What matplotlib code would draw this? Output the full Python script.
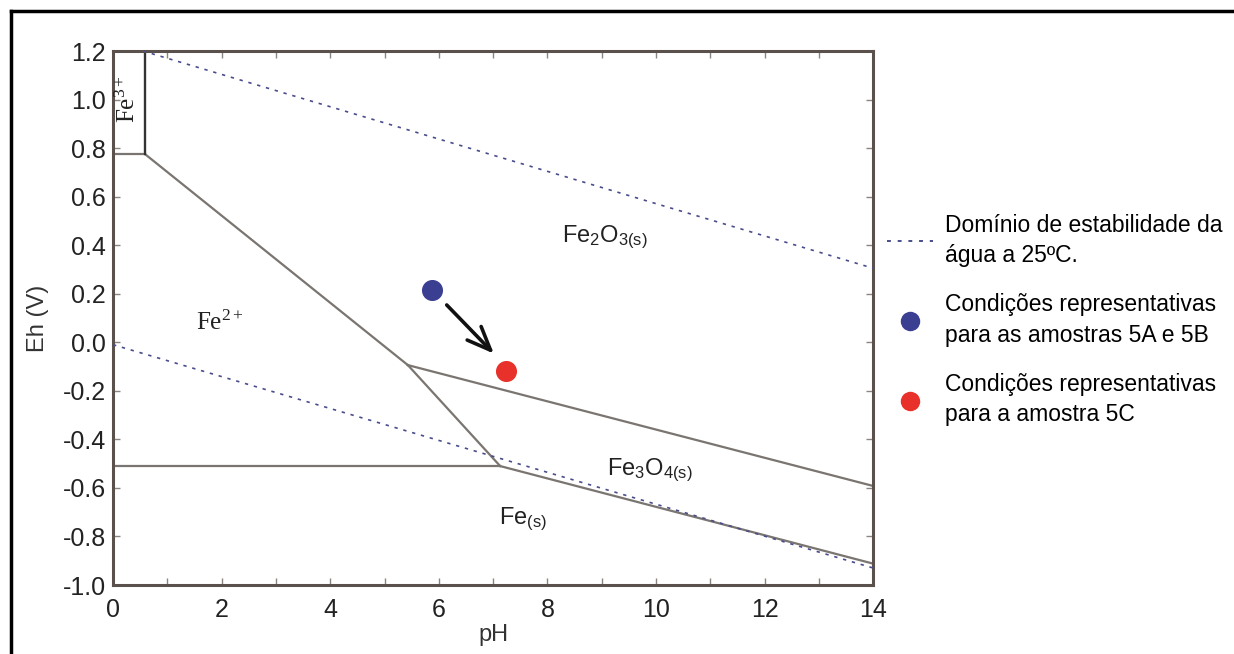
#!/usr/bin/env python3

import numpy as np
import matplotlib.pyplot as plt
from matplotlib.lines import Line2D

# boundaries of the stability fields (pH, Eh)
fe3_fe2o3_ph = [0.59, 0.59]
fe3_fe2o3_eh = [1.2, 0.775]
fe3_fe2_ph = [0.0, 0.59]
fe3_fe2_eh = [0.775, 0.775]
fe2_fe2o3_ph = [0.59, 5.43]
fe2_fe2o3_eh = [0.775, -0.094]
fe2_fe3o4_ph = [5.43, 7.13]
fe2_fe3o4_eh = [-0.094, -0.51]
fe2_fe_ph = [0.0, 7.13]
fe2_fe_eh = [-0.51, -0.51]
fe2o3_fe3o4_ph = [5.43, 14.0]
fe2o3_fe3o4_eh = [-0.094, -0.592]
fe3o4_fe_ph = [7.13, 14.0]
fe3o4_fe_eh = [-0.51, -0.912]

# water stability limits
water_up_ph = [0.55, 14.0]
water_up_eh = [1.2, 0.305]
water_low_ph = [0.0, 14.0]
water_low_eh = [-0.01, -0.93]

# samples
sample_ab = (5.87, 0.215)
sample_c = (7.24, -0.118)
arrow_tail = (6.11, 0.162)
arrow_tip = (7.05, -0.055)

x_ticks = [0, 2, 4, 6, 8, 10, 12, 14]
y_ticks = [-1.0, -0.8, -0.6, -0.4, -0.2, 0.0, 0.2, 0.4, 0.6, 0.8, 1.0, 1.2]

plt.rcParams['font.family'] = ['Liberation Sans', 'DejaVu Sans']
plt.rcParams['mathtext.fontset'] = 'custom'
plt.rcParams['mathtext.rm'] = 'Liberation Sans'
plt.rcParams['mathtext.default'] = 'regular'

fig = plt.figure(figsize=(12.34, 6.54), dpi=100)
ax = fig.add_axes([0.0916, 0.1055, 0.616, 0.8165])

line_c = '#7a7570'
for px, ey in [(fe3_fe2o3_ph, fe3_fe2o3_eh), (fe3_fe2_ph, fe3_fe2_eh),
               (fe2_fe2o3_ph, fe2_fe2o3_eh), (fe2_fe3o4_ph, fe2_fe3o4_eh),
               (fe2_fe_ph, fe2_fe_eh), (fe2o3_fe3o4_ph, fe2o3_fe3o4_eh),
               (fe3o4_fe_ph, fe3o4_fe_eh)]:
    ax.plot(px, ey, c=line_c, lw=1.6, zorder=2)
ax.plot(fe3_fe2o3_ph, fe3_fe2o3_eh, c='#333333', lw=1.6, zorder=2)

for px, ey in [(water_up_ph, water_up_eh), (water_low_ph, water_low_eh)]:
    ax.plot(px, ey, c='#4a4d8c', lw=1.2, ls=(0, (2, 3.5)), zorder=3)

ax.scatter(*sample_ab, s=200, c='#3b3f91', zorder=4)
ax.scatter(*sample_c, s=200, c='#e8312b', zorder=4)
ax.annotate('', xy=arrow_tip, xytext=arrow_tail,
            arrowprops=dict(arrowstyle='->,head_length=1.7,head_width=0.7',
                            color='#111111', lw=2.6), zorder=4)

ax.text(9.06, 0.434, 'Fe$_2$O$_{3(s)}$', fontsize=17, ha='center', va='center',
        color='#222222')
ax.text(9.89, -0.526, 'Fe$_3$O$_{4(s)}$', fontsize=17, ha='center', va='center',
        color='#222222')
ax.text(7.55, -0.73, 'Fe$_{(s)}$', fontsize=17, ha='center', va='center',
        color='#222222')
ax.text(1.97, 0.08, r'Fe$^{2+}$', fontsize=18, ha='center', va='center',
        family='Liberation Serif', math_fontfamily='stix', color='#222222')
ax.text(0.27, 1.0, r'Fe$^{3+}$', fontsize=18, ha='center', va='center',
        rotation=90, family='Liberation Serif', math_fontfamily='stix',
        color='#222222')

ax.set_xlim(0, 14)
ax.set_ylim(-1.0, 1.2)
ax.set_xticks(np.arange(0, 15, 1), minor=True)
ax.set_xticks(x_ticks)
ax.set_xticklabels([str(t) for t in x_ticks])
ax.set_yticks(y_ticks)
ax.set_yticklabels(['%.1f' % t for t in y_ticks])
ax.tick_params(which='both', direction='in', top=True, right=True,
               length=5, width=1, color='#8a8580', labelsize=18, pad=5,
               labelcolor='#222222')
ax.tick_params(axis='x', pad=9)
for s in ax.spines.values():
    s.set_color('#5a504c')
    s.set_linewidth(2.2)
ax.set_xlabel('pH', fontsize=17, labelpad=2, color='#333333')
ax.set_ylabel('Eh (V)', fontsize=17, labelpad=10, color='#333333')

handles = [
    Line2D([], [], c='#4a4d8c', lw=1.4, ls=(0, (2, 3.5))),
    Line2D([], [], marker='o', ls='none', ms=14, mfc='#3b3f91', mec='none'),
    Line2D([], [], marker='o', ls='none', ms=14, mfc='#e8312b', mec='none'),
]
labels = ['Domínio de estabilidade da\nágua a 25ºC.',
          'Condições representativas\npara as amostras 5A e 5B',
          'Condições representativas\npara a amostra 5C']
leg = fig.legend(handles, labels, loc='upper left',
                 bbox_to_anchor=(0.719, 0.673), borderaxespad=0,
                 frameon=False, fontsize=16.5, handlelength=2.0,
                 handletextpad=0.5, labelspacing=1.15, borderpad=0)
for t in leg.get_texts():
    t.set_linespacing(1.4)

# outer frame (top and left edges visible)
fig.add_artist(Line2D([0.009, 1.0], [0.983, 0.983], transform=fig.transFigure,
                      c='black', lw=2.5))
fig.add_artist(Line2D([0.009, 0.009], [0.0, 0.983], transform=fig.transFigure,
                      c='black', lw=2.5))

fig.savefig('out.png', dpi=100)
